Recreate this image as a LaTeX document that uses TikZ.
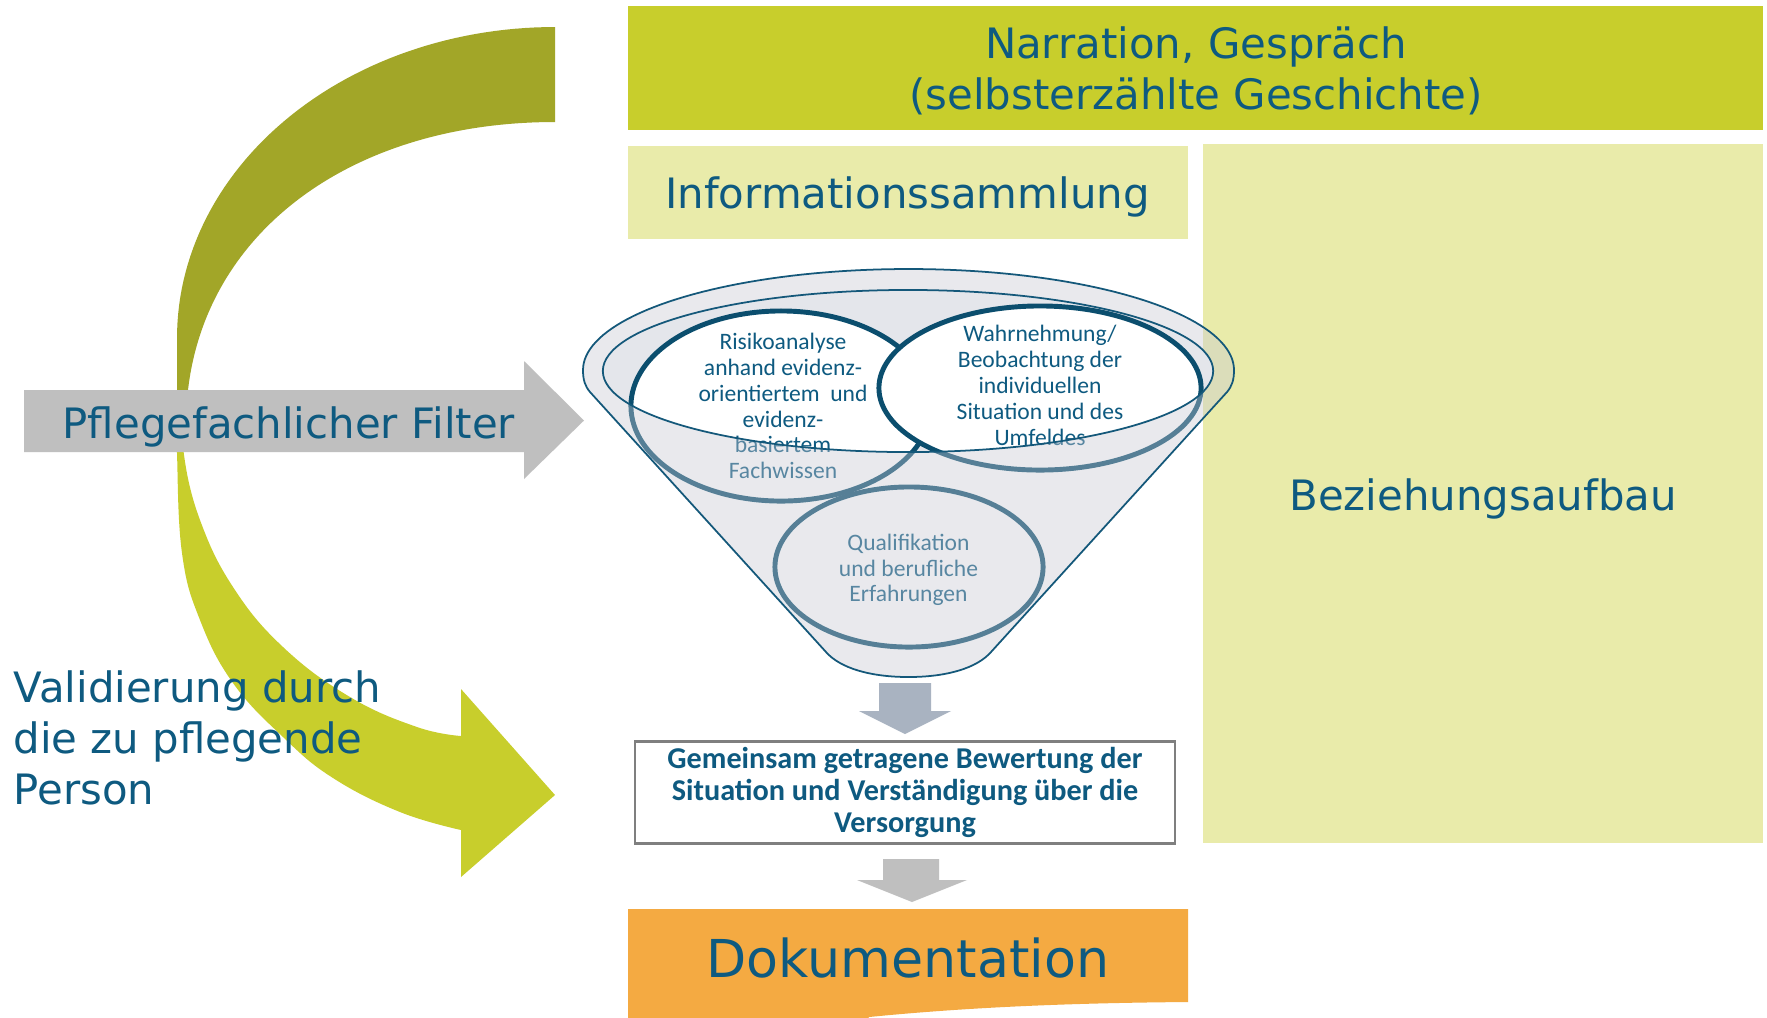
\documentclass[tikz,border=0pt]{standalone}
\usepackage{fontspec}
\setmainfont{DejaVu Sans}
\newfontfamily\calfont{Carlito}
\definecolor{txtblue}{RGB}{14,90,128}
\definecolor{narrgreen}{RGB}{200,206,44}
\definecolor{lightyel}{RGB}{233,235,170}
\definecolor{olivedark}{RGB}{162,166,40}
\definecolor{arrgray}{RGB}{191,191,191}
\definecolor{bluegray}{RGB}{169,179,193}
\definecolor{funnelback}{RGB}{228,230,235}
\definecolor{veil}{RGB}{200,202,212}
\definecolor{ringteal}{RGB}{11,78,110}
\definecolor{funnelline}{RGB}{20,88,122}
\definecolor{boxline}{RGB}{127,127,127}
\definecolor{dokuorange}{RGB}{244,170,66}
\begin{document}
\begin{tikzpicture}[x=0.01cm,y=-0.01cm,
  bigtxt/.style={text=txtblue, inner sep=0pt, font=\fontsize{11.9}{14.5}\selectfont},
  circtxt/.style={text=txtblue, inner sep=0pt, align=center, font=\calfont\fontsize{6.7}{7.34}\selectfont},
  ringline/.style={draw=ringteal, line width=1.4pt},
]
\clip (0,0) rectangle (1767,1017);
\fill[white] (0,0) rectangle (1767,1017);

% top boxes
\fill[narrgreen] (628,6) rectangle (1763,130);
\fill[lightyel] (628,146) rectangle (1188,239);
\fill[lightyel] (1203,144) rectangle (1763,843);
\node[bigtxt, align=center] (narr) at (1196,71) {Narration, Gespräch\\(selbsterzählte Geschichte)};
\node[bigtxt, anchor=base] (info) at (907.5,208) {Informationssammlung};
\node[bigtxt, anchor=base] (bez) at (1483,510) {Beziehungsaufbau};

% curved arrow, upper (dark olive) part
\fill[olivedark] plot[domain=90:180, samples=60] ({555+378*cos(\x)},{338-311*sin(\x)})
  -- (177,425) -- (186,425)
  .. controls (186,245) and (340,122) .. (555,122)
  -- cycle;
% curved arrow, lower (light green) part
\fill[narrgreen] (177,420)
  -- plot[smooth, tension=0.7] coordinates {(177,420) (177,453) (182,553) (200,620) (233,683) (283,737) (333,778) (400,812) (461,830)}
  -- (461,877) -- (555,795) -- (461,689)
  -- plot[smooth, tension=0.7] coordinates {(461,736) (417,727) (350,697) (283,647) (233,587) (200,520) (184,455) (186,420)}
  -- cycle;

% grey filter arrow
\fill[arrgray] (24,390) -- (524,390) -- (524,361) -- (584,420.5) -- (524,479) -- (524,452) -- (24,452) -- cycle;
\node[bigtxt, anchor=base west] (filter) at (62,438) {Pflegefachlicher Filter};
\node[bigtxt, align=left, anchor=west] (valid) at (13,738) {Validierung durch\\die zu pflegende\\Person};

% funnel: opening and circles
\fill[funnelback] (908,371) ellipse [x radius=3.05cm, y radius=0.81cm];
\draw[ringline, fill=white] (781,406) ellipse [x radius=1.5cm, y radius=0.95cm];
\draw[ringline, fill=white] (1040,388) ellipse [x radius=1.61cm, y radius=0.82cm];
\draw[ringline, fill=white] (909,567) ellipse [x radius=1.34cm, y radius=0.80cm];
\node[circtxt] (risk) at (783,406) {Risikoanalyse\\anhand evidenz-\\orientiertem\ \ und\\evidenz-\\basiertem\\Fachwissen};
\node[circtxt] (wahr) at (1040,385.5) {Wahrnehmung/\\Beobachtung der\\individuellen\\Situation und des\\Umfeldes};
\node[circtxt] (qual) at (908.5,570) {Qualifikation\\und berufliche\\Erfahrungen};

% funnel body (translucent) with rim
\path[fill=veil, fill opacity=0.4, draw=funnelline, line width=0.5pt, even odd rule]
  (1234,370) -- plot[domain=0:180, samples=90] ({908.5+325.5*cos(\x)},{370-101*sin(\x)})
  .. controls (583,380) and (585,386) .. (590,392) -- (826,652)
  .. controls (840,668) and (870,677) .. (908.5,677)
  .. controls (947,677) and (977,668) .. (991,652) -- (1227,392)
  .. controls (1232,386) and (1234,380) .. (1234,370) -- cycle
  (908,371) ellipse [x radius=3.05cm, y radius=0.81cm];

% lower flow
\fill[bluegray] (879,683) -- (931,683) -- (931,711) -- (951,711) -- (905,734) -- (859,711) -- (879,711) -- cycle;
\node[draw=boxline, line width=0.6pt, fill=white, minimum width=5.4cm, minimum height=1.02cm, inner sep=0pt,
  align=center, text=txtblue, font=\calfont\bfseries\fontsize{8.6}{9.1}\selectfont] (gem) at (905,792.5)
  {Gemeinsam getragene Bewertung der\\Situation und Verständigung über die\\Versorgung};
\fill[arrgray] (883,859) -- (939,859) -- (939,880) -- (967,880) -- (912,902) -- (857,880) -- (883,880) -- cycle;
\fill[dokuorange] (628,909) -- (1188,909) -- (1188,1002) .. controls (1060,1003) and (960,1008) .. (869,1017) -- (860,1030) -- (628,1030) -- cycle;
\node[anchor=base, text=txtblue, inner sep=0pt, font=\fontsize{14.85}{17}\selectfont] (doku) at (908,977) {Dokumentation};
\end{tikzpicture}
\end{document}
